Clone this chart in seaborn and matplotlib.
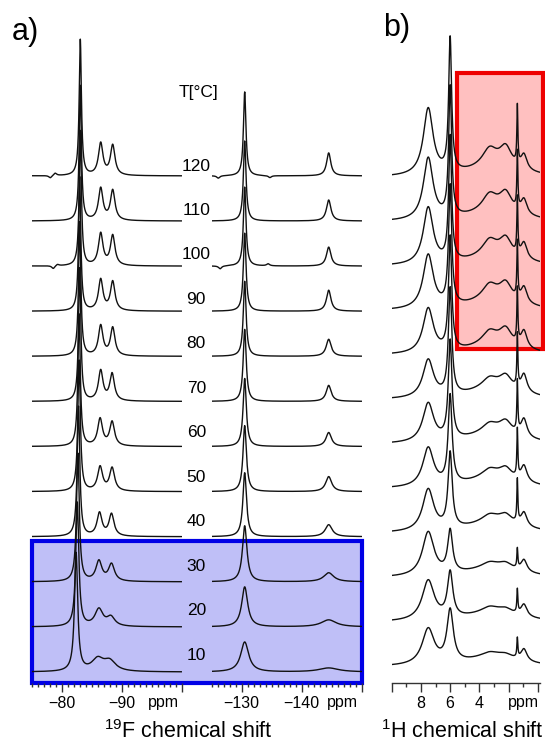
import numpy as np
import pandas as pd
import seaborn as sns
import matplotlib.pyplot as plt
from matplotlib.patches import Rectangle
from matplotlib.ticker import MultipleLocator
from matplotlib.transforms import blended_transform_factory

sns.set_style('white')
plt.rcParams['font.family'] = ['Liberation Sans', 'DejaVu Sans']
plt.rcParams['mathtext.fontset'] = 'custom'
plt.rcParams['mathtext.rm'] = 'Liberation Sans'
plt.rcParams['text.color'] = 'black'
plt.rcParams['xtick.color'] = 'black'

# --- data (heights in px above each trace's baseline) ---
temps = [10, 20, 30, 40, 50, 60, 70, 80, 90, 100, 110, 120]

# 19F, left window: main line + doublet
f_main_pos = [-82.4, -82.6, -82.7, -82.8, -82.9, -82.9, -83.0, -83.0, -83.0, -83.1, -83.1, -83.1]
f_main_amp = [118, 124, 128, 130, 131, 132, 133, 134, 134, 135, 135, 136]
f_main_w = [0.32, 0.30, 0.28, 0.26, 0.25, 0.24, 0.23, 0.23, 0.22, 0.22, 0.22, 0.22]
f_d1_pos = [-86.0, -86.2, -86.2, -86.3, -86.4, -86.4, -86.5, -86.5, -86.5, -86.5, -86.5, -86.5]
f_d2_pos = [-88.0, -88.2, -88.3, -88.3, -88.4, -88.4, -88.4, -88.5, -88.5, -88.5, -88.5, -88.5]
f_d1_amp = [12, 17, 20, 23, 24, 27, 30, 30, 31, 32, 32, 32]
f_d2_amp = [10, 9, 17, 22, 23, 24, 27, 28, 29, 30, 30, 30]
f_d_w = [1.2, 0.8, 0.6, 0.5, 0.5, 0.48, 0.46, 0.45, 0.45, 0.45, 0.45, 0.45]

# 19F, right window
f_p1_pos = -130.5
f_p1_amp = [30, 40, 56, 64, 66, 68, 72, 75, 78, 79, 80, 84]
f_p1_w = [0.8, 0.6, 0.45, 0.36, 0.34, 0.32, 0.30, 0.28, 0.27, 0.26, 0.26, 0.25]
f_p2_pos = -144.5
f_p2_amp = [4, 7, 9, 12, 15, 14, 16, 17, 21, 19, 21, 23]
f_p2_w = [2.0, 1.5, 1.0, 0.7, 0.6, 0.55, 0.5, 0.5, 0.45, 0.45, 0.45, 0.42]

# small baseline wiggles in some 19F traces
art_temp = [120, 120, 120, 120, 100, 100, 100, 100]
art_ppm = [-78.1, -78.9, -126.1, -134.7, -78.6, -79.3, -126.4, -134.4]
art_amp = [-2.5, 2.5, -2.5, -2.0, -3.0, 1.5, -3.0, 2.0]

# 1H
h_a_amp = [36, 40, 44, 42, 39, 39, 38, 45, 54, 57, 62, 67]
h_a_w = [0.5, 0.5, 0.48, 0.46, 0.45, 0.45, 0.44, 0.43, 0.42, 0.41, 0.40, 0.40]
h_b_amp = [52, 45, 42, 75, 88, 98, 106, 113, 119, 124, 129, 133]
h_b_w = [0.26, 0.22, 0.20, 0.17, 0.16, 0.15, 0.14, 0.13, 0.13, 0.12, 0.12, 0.12]
h_g_amp = [11, 11, 11, 12, 12, 12, 12, 11, 11, 10, 10, 10]
h_h1_amp = [3, 4, 4, 6, 7, 8, 9, 12, 14, 15, 16, 17]
h_h2_amp = [3, 4, 5, 8, 10, 12, 13, 16, 17, 18, 19, 20]
h_c_amp = [19, 23, 19, 42, 47, 50, 52, 53, 55, 55, 56, 57]
h_d_amp = [12, 12, 12, 14, 16, 18, 18, 17, 16, 16, 15, 15]
h_pos = {'A': 7.5, 'B': 6.0, 'G': 3.0, 'H1': 3.3, 'H2': 2.2, 'C': 1.4, 'D': 0.95}


def lor(x, x0, a, w):
    return a / (1 + ((x - x0) / w) ** 2)


step_f = 45.1
step_h = 44.5

x_fl = np.linspace(-75, -100, 1251)
x_fr = np.linspace(-125, -150, 1251)
x_h = np.linspace(10, -0.15, 2031)

rows_fl, rows_fr, rows_h = [], [], []
for i, t in enumerate(temps):
    off = i * step_f
    yl = (lor(x_fl, f_main_pos[i], f_main_amp[i], f_main_w[i])
          + lor(x_fl, f_d1_pos[i], f_d1_amp[i], f_d_w[i])
          + lor(x_fl, f_d2_pos[i], f_d2_amp[i], f_d_w[i]))
    yr = (lor(x_fr, f_p1_pos, f_p1_amp[i], f_p1_w[i])
          + lor(x_fr, f_p2_pos, f_p2_amp[i], f_p2_w[i]))
    for at, ap, aa in zip(art_temp, art_ppm, art_amp):
        if at == t:
            yl += lor(x_fl, ap, aa, 0.3)
            yr += lor(x_fr, ap, aa, 0.3)
    rows_fl.append(pd.DataFrame({'ppm': x_fl, 'y': yl + off, 'T': t}))
    rows_fr.append(pd.DataFrame({'ppm': x_fr, 'y': yr + off, 'T': t}))

    yh = (lor(x_h, h_pos['A'], h_a_amp[i], h_a_w[i])
          + lor(x_h, h_pos['B'], h_b_amp[i], h_b_w[i])
          + lor(x_h, h_pos['G'], h_g_amp[i], 2.0)
          + lor(x_h, h_pos['H1'], h_h1_amp[i], 0.6)
          + lor(x_h, h_pos['H2'], h_h2_amp[i], 0.5)
          + lor(x_h, h_pos['C'], h_c_amp[i], 0.04)
          + lor(x_h, h_pos['D'], h_d_amp[i], 0.25))
    rows_h.append(pd.DataFrame({'ppm': x_h, 'y': yh + 5 + i * step_h, 'T': t}))

df_fl = pd.concat(rows_fl)
df_fr = pd.concat(rows_fr)
df_h = pd.concat(rows_h)

# --- layout in pixels ---
W, H = 545, 744
fig = plt.figure(figsize=(W / 100, H / 100), dpi=100)


def add_ax(x0, x1, y_top, y_bot):
    return fig.add_axes([x0 / W, 1 - y_bot / H, (x1 - x0) / W, (y_bot - y_top) / H])


axL = add_ax(31.7, 181.7, 5, 683)
axR = add_ax(211.7, 361.7, 5, 683)
axB = add_ax(391.7, 540, 5, 683)

line_kw = dict(x='ppm', y='y', units='T', estimator=None, sort=False,
               color='#111111', lw=1.0, legend=False)
sns.lineplot(data=df_fl, ax=axL, **line_kw)
sns.lineplot(data=df_fr, ax=axR, **line_kw)
sns.lineplot(data=df_h, ax=axB, **line_kw)

axL.set_xlim(-75, -100)
axR.set_xlim(-125, -150)
axB.set_xlim(10, -0.15)

for ax in (axL, axR, axB):
    ax.set_ylim(-11, 667)
    ax.set_facecolor('none')
    ax.set_xlabel('')
    ax.set_ylabel('')
    ax.set_yticks([])
    for s in ('left', 'right', 'top'):
        ax.spines[s].set_visible(False)
    ax.xaxis.set_minor_locator(MultipleLocator(1))
    ax.tick_params(axis='x', which='major', bottom=True, length=6.5, width=1,
                   color='#333333', direction='out', labelsize=11.5, pad=2.5)
    ax.tick_params(axis='x', which='minor', bottom=True, length=3, width=1,
                   color='#333333', direction='out')

axL.spines['bottom'].set_visible(False)
axR.spines['bottom'].set_visible(False)
axB.spines['bottom'].set_color('#333333')
axB.spines['bottom'].set_linewidth(1)

axL.set_xticks([-80, -90, -100])
axL.set_xticklabels(['\u221280', '\u221290', ''])
axR.set_xticks([-130, -140, -150])
axR.set_xticklabels(['\u2212130', '\u2212140', ''])
axB.set_xticks([10, 8, 6, 4, 2, 0])
axB.set_xticklabels(['', '8', '6', '4', '', ''])

for ax, xp in ((axL, -97.0), (axR, -146.8), (axB, 1.0)):
    ax.annotate('ppm', xy=(xp, 0), xycoords=ax.get_xaxis_transform(),
                xytext=(0, -9.0), textcoords='offset points',
                ha='center', va='top', fontsize=11.5)

# temperature labels between the two 19F windows
lab_tr = blended_transform_factory(axL.transAxes, axL.transData)
for i, t in enumerate(temps):
    axL.text(1.097, 17 + i * 44.45, str(t), transform=lab_tr,
             ha='center', va='center', fontsize=12.5, clip_on=False)
axL.text(1.11, 579, 'T[\u00b0C]', transform=lab_tr, ha='center', va='center',
         fontsize=12.5, clip_on=False)

# highlight boxes
inv = fig.transFigure.inverted()
p0 = inv.transform(axL.transData.transform((-75, -11)))
p1 = inv.transform(axR.transData.transform((-150, 131)))
fig.patches.append(Rectangle(p0, p1[0] - p0[0], p1[1] - p0[1], transform=fig.transFigure,
                             fc='#bfbff7', ec='#0000e6', lw=3, zorder=-1))
q0 = inv.transform(axB.transData.transform((5.5, 323)))
q1 = inv.transform(axB.transData.transform((-0.35, 599)))
fig.patches.append(Rectangle(q0, q1[0] - q0[0], q1[1] - q0[1], transform=fig.transFigure,
                             fc='#ffc0c0', ec='#ee0000', lw=3, zorder=-1))

fig.text(188 / W, 1 - 732 / H, r'$\mathregular{^{19}}$F chemical shift',
         ha='center', va='center', fontsize=15.5)
fig.text(462 / W, 1 - 732 / H, r'$\mathregular{^{1}}$H chemical shift',
         ha='center', va='center', fontsize=15.5)
fig.text(12 / W, 1 - 32 / H, 'a)', ha='left', va='center', fontsize=22)
fig.text(383 / W, 1 - 28 / H, 'b)', ha='left', va='center', fontsize=22)

fig.savefig('out.png', dpi=100)
